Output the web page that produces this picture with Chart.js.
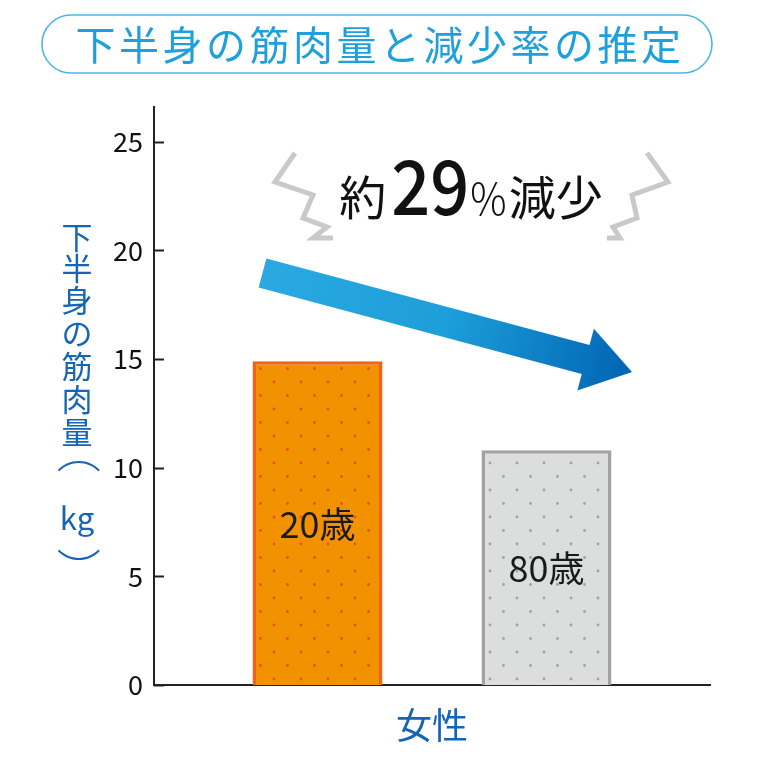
<!DOCTYPE html>
<html><head><meta charset="utf-8">
<script src="https://cdn.jsdelivr.net/npm/chart.js@4.4.1/dist/chart.umd.min.js"></script>
<style>html,body{margin:0;padding:0;background:#fff}#wrap{width:760px;height:760px;position:relative}</style>
</head><body><div id="wrap"><canvas id="c" width="760" height="760"></canvas></div>
<script>
// ---- data ----
const titleText = '下半身の筋肉量と減少率の推定';
const categories = ['女性'];
const seriesLabels = ['20歳', '80歳'];
const values20 = [14.9];
const values80 = [10.8];
const yTickValues = [0, 5, 10, 15, 20, 25];
const yAxisTitleParts = ['下','半','身','の','筋','肉','量','（','kg','）'];
const annotationParts = ['約', '29', '%', '減少'];

const JP = '"Noto Sans CJK JP", "Noto Sans", sans-serif';

function makePattern(bg, dot) {
  const s = 27;
  const c = document.createElement('canvas');
  c.width = s; c.height = s;
  const x = c.getContext('2d');
  x.fillStyle = bg; x.fillRect(0, 0, s, s);
  x.fillStyle = dot;
  [[4, 4], [17.5, 17.5]].forEach(p => { x.beginPath(); x.arc(p[0], p[1], 1.4, 0, Math.PI * 2); x.fill(); });
  return c;
}
const ctx0 = document.getElementById('c').getContext('2d');
const orangePat = ctx0.createPattern(makePattern('#f39200', '#e4531c'), 'repeat');
const grayPat = ctx0.createPattern(makePattern('#dcdddd', '#a3a3a3'), 'repeat');

function fillInkCentered(c, t, cx, cy, rot) {
  const m = c.measureText(t);
  const w = m.actualBoundingBoxLeft + m.actualBoundingBoxRight;
  const h = m.actualBoundingBoxAscent + m.actualBoundingBoxDescent;
  c.save();
  c.translate(cx, cy);
  if (rot) c.rotate(rot);
  c.textAlign = 'left';
  c.textBaseline = 'alphabetic';
  c.fillText(t, -w / 2 + m.actualBoundingBoxLeft, -h / 2 + m.actualBoundingBoxAscent);
  c.restore();
}

const decor = {
  id: 'decor',
  beforeDraw(chart) {
    const c = chart.ctx;
    c.save();
    c.strokeStyle = '#4bb6e6';
    c.lineWidth = 1.6;
    c.beginPath();
    c.roundRect(42, 15, 670, 58, 29);
    c.stroke();
    c.fillStyle = '#1ea0dc';
    c.font = '400 40px ' + JP;
    c.textAlign = 'center';
    c.textBaseline = 'middle';
    if ('letterSpacing' in c) c.letterSpacing = '3.5px';
    c.fillText(titleText, 380, 45);
    if ('letterSpacing' in c) c.letterSpacing = '0px';
    c.restore();
  },
  afterDatasetsDraw(chart) {
    const c = chart.ctx;
    const ya = chart.scales.y;
    const area = chart.chartArea;
    c.save();
    // inner tick marks
    c.strokeStyle = '#222';
    c.lineWidth = 2;
    yTickValues.forEach(v => {
      const py = Math.round(ya.getPixelForValue(v)) + 0.5;
      c.beginPath(); c.moveTo(area.left, py); c.lineTo(area.left + 10, py); c.stroke();
    });
    // bar labels
    c.fillStyle = '#1a1a1a';
    c.font = '400 36px ' + JP;
    c.textAlign = 'center';
    c.textBaseline = 'middle';
    chart.data.datasets.forEach((ds, i) => {
      const el = chart.getDatasetMeta(i).data[0];
      c.fillText(ds.label, el.x, (el.y + el.base) / 2 + 1);
    });
    // y axis title (vertical)
    c.fillStyle = '#1565b6';
    const ys = [237, 268, 300, 333, 366, 399, 432, 444, 518, 533];
    yAxisTitleParts.forEach((t, i) => {
      if (t === '（' || t === '）') {
        c.font = '300 44px ' + JP;
        fillInkCentered(c, t, 62, ys[i], Math.PI / 2);
      } else {
        c.font = '400 31px ' + JP;
        c.textAlign = 'center'; c.textBaseline = 'middle';
        c.fillText(t, 77, ys[i]);
      }
    });
    // zigzags
    c.strokeStyle = '#c9c9c9';
    c.lineWidth = 5;
    c.lineJoin = 'miter';
    c.lineCap = 'butt';
    const zl = [[295,153],[275,182],[313,195],[303,218],[327,227],[313,238],[333,238]];
    const zr = [[647,153],[668,182],[632,195],[637,218],[613,227],[620,238],[607,238]];
    [zl, zr].forEach(z => { c.beginPath(); z.forEach((p, k) => k ? c.lineTo(p[0], p[1]) : c.moveTo(p[0], p[1])); c.stroke(); });
    // annotation text
    c.fillStyle = '#111';
    c.textAlign = 'left';
    c.textBaseline = 'alphabetic';
    const fonts = ['400 47px ' + JP, '500 76px ' + JP, '300 44px ' + JP, '400 47px ' + JP];
    const sx = [1, 0.9, 0.92, 1];
    const gaps = [5, 1, 2, 0];
    let widths = annotationParts.map((t, i) => { c.font = fonts[i]; return c.measureText(t).width * sx[i]; });
    let total = widths.reduce((a, b) => a + b, 0) + gaps.reduce((a, b) => a + b, 0);
    let x = 471 - total / 2;
    annotationParts.forEach((t, i) => {
      c.font = fonts[i];
      c.save(); c.translate(x, 215); c.scale(sx[i], 1); c.fillText(t, 0, 0); c.restore();
      x += widths[i] + gaps[i];
    });
    // arrow
    const sxp = 262.5, syp = 273, tx = 632, ty = 372;
    const dx = tx - sxp, dy = ty - syp, L = Math.hypot(dx, dy);
    const ux = dx / L, uy = dy / L, nx = -uy, ny = ux;
    const hw = 15, hh = 32, hl = 48;
    const bx = tx - ux * hl, by = ty - uy * hl;
    const g = c.createLinearGradient(sxp, syp, tx, ty);
    g.addColorStop(0, '#2aa9e1');
    g.addColorStop(0.5, '#1c9ed9');
    g.addColorStop(1, '#0064b4');
    c.fillStyle = g;
    c.beginPath();
    c.moveTo(sxp + nx * hw, syp + ny * hw);
    c.lineTo(bx + nx * hw, by + ny * hw);
    c.lineTo(bx + nx * hh, by + ny * hh);
    c.lineTo(tx, ty);
    c.lineTo(bx - nx * hh, by - ny * hh);
    c.lineTo(bx - nx * hw, by - ny * hw);
    c.lineTo(sxp - nx * hw, syp - ny * hw);
    c.closePath();
    c.fill();
    c.restore();
  }
};

new Chart(document.getElementById('c'), {
  type: 'bar',
  data: {
    labels: categories,
    datasets: [
      { label: seriesLabels[0], data: values20, backgroundColor: orangePat, borderColor: '#ee6418', borderWidth: 3.5, borderSkipped: 'bottom' },
      { label: seriesLabels[1], data: values80, backgroundColor: grayPat, borderColor: '#a2a2a2', borderWidth: 3.5, borderSkipped: 'bottom' }
    ]
  },
  options: {
    responsive: false,
    animation: false,
    devicePixelRatio: 1,
    categoryPercentage: 0.8237,
    barPercentage: 0.5677,
    layout: { padding: { top: 107, right: 50, left: 0, bottom: 0 } },
    plugins: { legend: { display: false }, tooltip: { enabled: false }, title: { display: false } },
    scales: {
      x: {
        grid: { display: false, drawTicks: false },
        border: { display: true, color: '#222', width: 2 },
        ticks: { color: '#1565b6', font: { family: JP, size: 36 }, padding: 19 },
        afterFit(s) { s.height = 75; }
      },
      y: {
        min: 0, max: 26.6,
        afterBuildTicks(s) { s.ticks = yTickValues.map(v => ({ value: v })); },
        grid: { display: false, drawTicks: false },
        border: { display: true, color: '#222', width: 2 },
        ticks: { color: '#111', font: { family: JP, size: 27 }, padding: 11 },
        afterFit(s) { s.width = 154; }
      }
    }
  },
  plugins: [decor]
});
</script>
</body></html>
